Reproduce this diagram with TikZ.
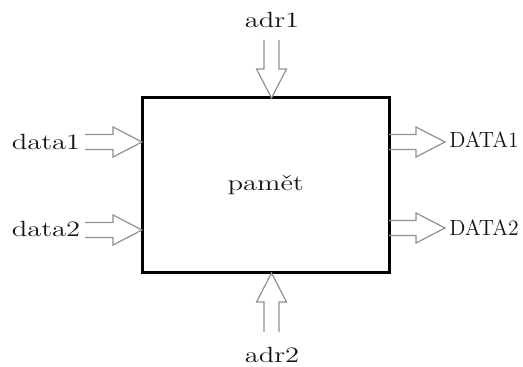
\documentclass[tikz,border=0pt]{standalone}
\usepackage{graphicx}
\definecolor{arrowgray}{RGB}{145,145,145}
\definecolor{inkcol}{RGB}{20,20,20}
\tikzset{
  lbl/.style={inner sep=0pt, font=\fontsize{11}{13}\selectfont, text=inkcol},
  membox/.style={draw=black, line width=1.5pt, inner sep=0pt,
    minimum width=123.25pt, minimum height=87.5pt,
    font=\fontsize{11}{13}\selectfont, text=inkcol},
  fat/.style={draw=arrowgray, line width=0.6pt, line join=miter}
}
\newcommand\lc[1]{\scalebox{1.3}[1]{#1}}
\newcommand\uc[1]{\scalebox{0.98}[1]{#1}}
% #1 tail coordinate, #2 direction angle, #3 length (px)
\newcommand\fatarrow[3]{%
  \begin{scope}[shift={(#1)}, rotate=#2]
    \draw[fat] (0,-7.5) -- ({#3-29},-7.5) -- ({#3-29},-15) -- (#3,0)
      -- ({#3-29},15) -- ({#3-29},7.5) -- (0,7.5);
  \end{scope}}
\begin{document}
\begin{tikzpicture}[x=0.5pt,y=-0.5pt]
  \useasboundingbox (0,0) rectangle (523,367);
  % memory box
  \node[membox] (box) at (265.75,185.5) {\lc{pamět}};
  % labels
  \node[lbl] (adr1)  at (272,20)  {\lc{adr1}};
  \node[lbl] (adr2)  at (272,355) {\lc{adr2}};
  \node[lbl] (data1) at (46,142)  {\lc{data1}};
  \node[lbl] (data2) at (46,229)  {\lc{data2}};
  \node[lbl] (DATA1) at (484,140) {\uc{DATA1}};
  \node[lbl] (DATA2) at (484,228) {\uc{DATA2}};
  % arrow tails
  \coordinate (a1t) at (271.5,40);
  \coordinate (a2t) at (271.5,332);
  \coordinate (d1t) at (85,142);
  \coordinate (d2t) at (85,230);
  \coordinate (D1t) at (389,142);
  \coordinate (D2t) at (389,228);
  % arrows
  \fatarrow{a1t}{-90}{58}
  \fatarrow{a2t}{90}{59}
  \fatarrow{d1t}{0}{57}
  \fatarrow{d2t}{0}{57}
  \fatarrow{D1t}{0}{56}
  \fatarrow{D2t}{0}{56}
\end{tikzpicture}
\end{document}
